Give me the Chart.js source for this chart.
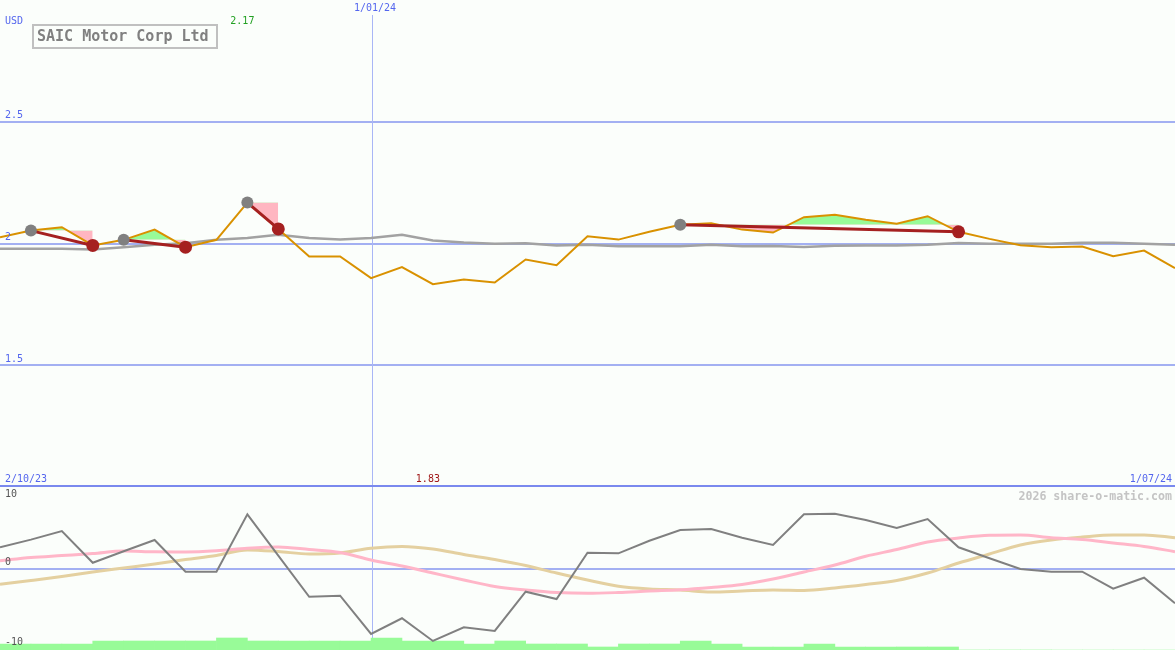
<!DOCTYPE html>
<html>
<head>
<meta charset="utf-8">
<script src="https://cdn.jsdelivr.net/npm/chart.js@4.4.1/dist/chart.umd.min.js"></script>
<style>
html, body { margin: 0; padding: 0; background: #fbfefb; width: 1175px; height: 650px; overflow: hidden; }
#wrap { position: relative; width: 1175px; height: 650px; }
canvas { position: absolute; left: 0; display: block; }
#priceCanvas { top: 0; }
#oscCanvas { top: 487px; }
</style>
</head>
<body>
<div id="wrap">
  <canvas id="priceCanvas" width="1175" height="487"></canvas>
  <canvas id="oscCanvas" width="1175" height="163"></canvas>
</div>
<script>
// ---------------- DATA ----------------
const companyName = 'SAIC Motor Corp Ltd';
const currency = 'USD';
const watermark = '2026 share-o-matic.com';

// date tick labels and the week index they belong to
const dateTickLabels = ['2/10/23', '1/01/24', '1/07/24'];
const dateTickIndex = [0, 12, 38];

// weekly closing price (USD)
const priceClose = [2.026, 2.053, 2.067, 1.992, 2.015, 2.057, 1.985, 2.015, 2.168, 2.060,
                    1.947, 1.947, 1.858, 1.903, 1.833, 1.852, 1.840, 1.934, 1.911, 2.030,
                    2.016, 2.048, 2.077, 2.083, 2.057, 2.045, 2.108, 2.118, 2.098, 2.081,
                    2.112, 2.048, 2.019, 1.993, 1.985, 1.988, 1.948, 1.971, 1.899];

// moving average (grey)
const priceAverage = [1.978, 1.978, 1.978, 1.975, 1.985, 1.995, 2.001, 2.015, 2.023, 2.036,
                      2.023, 2.016, 2.023, 2.036, 2.012, 2.004, 1.999, 2.001, 1.992, 1.995,
                      1.989, 1.989, 1.989, 1.995, 1.989, 1.990, 1.986, 1.991, 1.992, 1.992,
                      1.995, 2.002, 1.999, 1.999, 1.999, 2.003, 2.003, 1.999, 1.995];

// price axis labels
const priceTicks = [1.5, 2, 2.5];
const priceTickLabels = ['1.5', '2', '2.5'];

// signal segments (grey dot -> red dot)
const signalFrom = [1, 4, 8, 22];
const signalTo = [3, 6, 9, 31];

// lower panel oscillators
const oscMomentum = [2.86, 3.9, 5.06, 0.78, 2.32, 3.85, -0.43, -0.43, 7.31, 1.73,
                     -3.81, -3.67, -8.84, -6.72, -9.78, -7.94, -8.43, -3.13, -4.12, 2.13,
                     2.05, 3.75, 5.2, 5.33, 4.16, 3.17, 7.31, 7.4, 6.55, 5.47,
                     6.68, 2.86, 1.38, -0.07, -0.43, -0.43, -2.73, -1.24, -4.7];
const oscPink = [1.05, 1.48, 1.75, 2.02, 2.36, 2.25, 2.23, 2.39, 2.73, 2.9,
                 2.56, 2.16, 1.15, 0.34, -0.61, -1.55, -2.43, -2.9, -3.24, -3.35,
                 -3.24, -3.04, -2.87, -2.56, -2.16, -1.42, -0.47, 0.47, 1.65, 2.56,
                 3.58, 4.12, 4.48, 4.52, 4.16, 3.91, 3.44, 2.97, 2.27];
const oscTan = [-2.13, -1.62, -1.08, -0.47, 0.07, 0.61, 1.21, 1.75, 2.5, 2.29,
                1.96, 2.09, 2.73, 2.97, 2.63, 1.89, 1.21, 0.4, -0.61, -1.55,
                -2.4, -2.77, -2.9, -3.17, -3.04, -2.9, -2.97, -2.63, -2.16, -1.62,
                -0.61, 0.74, 1.96, 3.17, 3.85, 4.25, 4.52, 4.52, 4.16];
const oscTicks = [10, 0, -10];
const oscTickLabels = ['10', '0', '-10'];

// weekly volume level (one per week interval)
const volumeLevel = [2, 2, 2, 3, 3, 3, 3, 4, 3, 3,
                     3, 3, 4, 3, 3, 2, 3, 2, 2, 1,
                     2, 2, 3, 2, 1, 1, 2, 1, 1, 1,
                     1, 0, 0, 0, 0, 0, 0, 0];

// ---------------- STYLE ----------------
const FONT = '"DejaVu Sans Mono", "Liberation Mono", monospace';
const C = {
  blueText: '#5466ee',
  grid: '#a3b0f2',
  janLine: '#a9b6f6',
  divider: '#7a89ee',
  orange: '#d99100',
  avg: '#a2a2a2',
  red: '#a52020',
  greyDot: '#808080',
  green: '#98fb98',
  pink: '#ffb6c1',
  maxText: '#22a022',
  minText: '#a01818',
  oscGrey: '#808080',
  oscPink: '#ffb6c8',
  oscTan: '#e4d0a0',
  vol: '#98fb98',
  titleText: '#808080',
  titleBorder: '#c0c0c0',
  watermark: '#c4c4c4',
  oscLabel: '#555555'
};

const pts = arr => arr.map((v, i) => ({ x: i, y: v }));

// ---------------- PRICE CHART ----------------
const datasets = [];
// signal dots
datasets.push({
  label: 'start', data: signalFrom.map(i => ({ x: i, y: priceClose[i] })),
  showLine: false, pointRadius: 6, pointHoverRadius: 6, pointBackgroundColor: C.greyDot,
  pointBorderWidth: 0, borderColor: C.greyDot, order: 0
});
datasets.push({
  label: 'end', data: signalTo.map(i => ({ x: i, y: priceClose[i] })),
  showLine: false, pointRadius: 6.5, pointHoverRadius: 6.5, pointBackgroundColor: C.red,
  pointBorderWidth: 0, borderColor: C.red, order: 0
});
// trend lines
signalFrom.forEach((s, k) => {
  const e = signalTo[k];
  datasets.push({
    label: 'trend' + k, data: [{ x: s, y: priceClose[s] }, { x: e, y: priceClose[e] }],
    borderColor: C.red, borderWidth: 3, pointRadius: 0, fill: false, order: 1
  });
});
// orange price
datasets.push({
  label: 'close', data: pts(priceClose), borderColor: C.orange, borderWidth: 2,
  pointRadius: 0, fill: false, tension: 0, order: 2
});
// grey average
datasets.push({
  label: 'avg', data: pts(priceAverage), borderColor: C.avg, borderWidth: 2.5,
  pointRadius: 0, fill: false, tension: 0, order: 3
});
// fills relative to signal level
signalFrom.forEach((s, k) => {
  const e = signalTo[k];
  const seg = [];
  for (let i = s; i <= e; i++) seg.push({ x: i, y: priceClose[i] });
  datasets.push({
    label: 'fill' + k, data: seg, borderWidth: 0, borderColor: 'rgba(0,0,0,0)',
    pointRadius: 0, tension: 0,
    fill: { target: { value: priceClose[s] }, above: C.green, below: C.pink },
    order: 4
  });
});

const pricePlugin = {
  id: 'priceDecor',
  beforeDatasetsDraw(chart) {
    const { ctx, chartArea, scales } = chart;
    const x = Math.ceil(scales.x.getPixelForValue(dateTickIndex[1])) + 0.5;
    ctx.save();
    ctx.strokeStyle = C.janLine;
    ctx.lineWidth = 1;
    ctx.beginPath();
    ctx.moveTo(x, 15);
    ctx.lineTo(x, chartArea.bottom);
    ctx.stroke();
    ctx.restore();
  },
  afterDraw(chart) {
    const { ctx, chartArea, scales } = chart;
    const xs = scales.x, ys = scales.y;
    ctx.save();
    ctx.font = '10px ' + FONT;
    ctx.textBaseline = 'middle';
    ctx.fillStyle = C.blueText;
    ctx.textAlign = 'left';
    ctx.fillText(currency, 5, 21.5);
    priceTicks.forEach((v, i) => ctx.fillText(priceTickLabels[i], 5, ys.getPixelForValue(v) - 6));
    ctx.fillText(dateTickLabels[0], 5, 479);
    ctx.textAlign = 'right';
    ctx.fillText(dateTickLabels[2], chartArea.right - 3, 479);
    ctx.textAlign = 'center';
    ctx.fillText(dateTickLabels[1], Math.ceil(xs.getPixelForValue(dateTickIndex[1])) + 3, 8.5);

    // max / min labels
    let iMax = 0, iMin = 0;
    priceClose.forEach((v, i) => { if (v > priceClose[iMax]) iMax = i; if (v < priceClose[iMin]) iMin = i; });
    ctx.fillStyle = C.maxText;
    ctx.fillText(priceClose[iMax].toFixed(2), xs.getPixelForValue(iMax) - 5, 21.5);
    ctx.fillStyle = C.minText;
    ctx.fillText(priceClose[iMin].toFixed(2), xs.getPixelForValue(iMin) - 5, 479);

    // title box
    ctx.strokeStyle = C.titleBorder;
    ctx.lineWidth = 2;
    ctx.strokeRect(33, 25, 184, 23);
    ctx.fillStyle = C.titleText;
    ctx.font = 'bold 15px ' + FONT;
    ctx.textAlign = 'left';
    ctx.fillText(companyName, 37, 37);

    // divider
    ctx.fillStyle = C.divider;
    ctx.fillRect(0, chartArea.bottom - 2, chartArea.right, 2);
    ctx.restore();
  }
};

new Chart(document.getElementById('priceCanvas'), {
  type: 'line',
  data: { datasets },
  options: {
    responsive: false,
    animation: false,
    devicePixelRatio: 1,
    events: [],
    layout: { padding: 0, autoPadding: false },
    plugins: { legend: { display: false }, tooltip: { enabled: false } },
    scales: {
      x: { type: 'linear', min: 0, max: 38, display: false },
      y: {
        type: 'linear', min: 1, max: 3, display: true,
        border: { display: false },
        ticks: { display: false, stepSize: 0.5 },
        grid: {
          drawTicks: false, lineWidth: 2,
          color: c => priceTicks.includes(c.tick && c.tick.value) ? C.grid : 'rgba(0,0,0,0)'
        }
      }
    }
  },
  plugins: [pricePlugin]
});

// ---------------- OSCILLATOR CHART ----------------
const oscPlugin = {
  id: 'oscDecor',
  beforeDatasetsDraw(chart) {
    const { ctx, chartArea, scales } = chart;
    const x = Math.ceil(scales.x.getPixelForValue(dateTickIndex[1])) + 0.5;
    ctx.save();
    ctx.strokeStyle = C.janLine;
    ctx.lineWidth = 1;
    ctx.beginPath();
    ctx.moveTo(x, chartArea.top);
    ctx.lineTo(x, chartArea.bottom);
    ctx.stroke();
    ctx.restore();
  },
  afterDraw(chart) {
    const { ctx, chartArea, scales } = chart;
    ctx.save();
    ctx.font = '10px ' + FONT;
    ctx.textBaseline = 'middle';
    ctx.textAlign = 'left';
    ctx.fillStyle = C.oscLabel;
    oscTicks.forEach((v, i) => {
      const y = scales.y.getPixelForValue(v) + (v === 0 ? -6 : 0);
      ctx.fillText(oscTickLabels[i], 5, y);
    });
    ctx.font = 'bold 11.6px ' + FONT;
    ctx.fillStyle = C.watermark;
    ctx.textAlign = 'right';
    ctx.fillText(watermark, chartArea.right - 3, 9.5);
    ctx.restore();
  }
};

new Chart(document.getElementById('oscCanvas'), {
  type: 'line',
  data: {
    datasets: [
      { label: 'momentum', data: pts(oscMomentum), borderColor: C.oscGrey, borderWidth: 2,
        pointRadius: 0, tension: 0, fill: false, yAxisID: 'y', order: 0 },
      { label: 'pink', data: pts(oscPink), borderColor: C.oscPink, borderWidth: 3,
        pointRadius: 0, cubicInterpolationMode: 'monotone', fill: false, yAxisID: 'y', order: 1 },
      { label: 'tan', data: pts(oscTan), borderColor: C.oscTan, borderWidth: 3,
        pointRadius: 0, cubicInterpolationMode: 'monotone', fill: false, yAxisID: 'y', order: 2 },
      { type: 'bar', label: 'volume', data: volumeLevel.map((v, i) => ({ x: i + 0.5, y: v })),
        backgroundColor: C.vol, borderWidth: 0, barPercentage: 1, categoryPercentage: 1,
        yAxisID: 'yVol', order: 3 }
    ]
  },
  options: {
    responsive: false,
    animation: false,
    devicePixelRatio: 1,
    events: [],
    layout: { padding: 0, autoPadding: false },
    plugins: { legend: { display: false }, tooltip: { enabled: false } },
    scales: {
      x: { type: 'linear', min: 0, max: 38, offset: false, display: false, grid: { offset: false } },
      y: {
        type: 'linear', min: -11, max: 11, display: true,
        border: { display: false },
        ticks: { display: false, stepSize: 10 },
        grid: {
          drawTicks: false, lineWidth: 2,
          color: c => (c.tick && c.tick.value === 0) ? C.grid : 'rgba(0,0,0,0)'
        }
      },
      yVol: { type: 'linear', min: 0, max: 54.33, display: false }
    }
  },
  plugins: [oscPlugin]
});
</script>
</body>
</html>
